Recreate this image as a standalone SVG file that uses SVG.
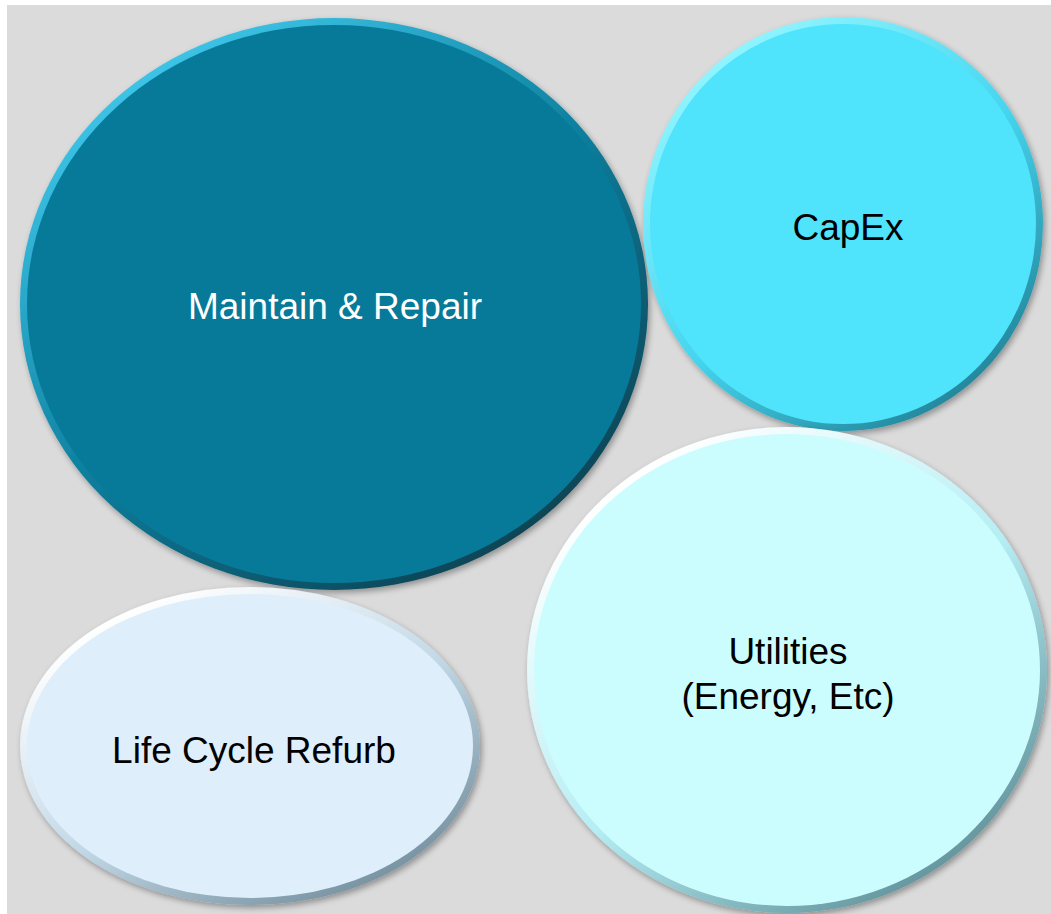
<svg xmlns="http://www.w3.org/2000/svg" width="1051" height="914" viewBox="0 0 1051 914">
<style>
.lbl{font-family:"Liberation Sans",Arial,sans-serif;font-size:37px;text-anchor:middle}
</style>
<defs>
<filter id="sh" x="-10%" y="-10%" width="120%" height="120%">
<feGaussianBlur in="SourceAlpha" stdDeviation="3"/>
<feOffset dx="2" dy="3" result="b"/>
<feComponentTransfer><feFuncA type="linear" slope="0.35"/></feComponentTransfer>
<feMerge><feMergeNode/><feMergeNode in="SourceGraphic"/></feMerge>
</filter>
<linearGradient id="rimM" x1="0.2" y1="0.1" x2="0.85" y2="0.95">
<stop offset="0" stop-color="#3cc3e6"/><stop offset="0.5" stop-color="#0a7a98"/><stop offset="1" stop-color="#0b3d4c"/>
</linearGradient>
<linearGradient id="rimC" x1="0.2" y1="0.1" x2="0.85" y2="0.95">
<stop offset="0" stop-color="#8ff4ff"/><stop offset="0.5" stop-color="#45d5ee"/><stop offset="1" stop-color="#1f7d92"/>
</linearGradient>
<linearGradient id="rimU" x1="0.2" y1="0.1" x2="0.85" y2="0.95">
<stop offset="0" stop-color="#ffffff"/><stop offset="0.5" stop-color="#b5eef4"/><stop offset="1" stop-color="#5b8a93"/>
</linearGradient>
<linearGradient id="rimL" x1="0.2" y1="0.1" x2="0.85" y2="0.95">
<stop offset="0" stop-color="#ffffff"/><stop offset="0.5" stop-color="#c2d8e6"/><stop offset="1" stop-color="#6f8a99"/>
</linearGradient>
</defs>
<rect x="0" y="0" width="1051" height="914" fill="#ffffff"/>
<rect x="7" y="5" width="1044" height="909" fill="#dcdbdb"/>
<g id="node-maintain">
<ellipse cx="334" cy="304" rx="314" ry="286" fill="url(#rimM)" filter="url(#sh)"/>
<ellipse cx="334" cy="304" rx="307" ry="279" fill="#087a99"/>
<text class="lbl" x="335" y="319" fill="#ffffff">Maintain &amp; Repair</text>
</g>
<g id="node-capex">
<ellipse cx="843" cy="224" rx="200" ry="207" fill="url(#rimC)" filter="url(#sh)"/>
<ellipse cx="843" cy="224" rx="193" ry="200" fill="#4fe3fc"/>
<text class="lbl" x="848" y="240" fill="#000000">CapEx</text>
</g>
<g id="node-utilities">
<ellipse cx="787" cy="670" rx="260" ry="243" fill="url(#rimU)" filter="url(#sh)"/>
<ellipse cx="787" cy="670" rx="253" ry="236" fill="#ccfdfe"/>
<text class="lbl" x="788" y="664" fill="#000000">Utilities</text>
<text class="lbl" x="788" y="709" fill="#000000">(Energy, Etc)</text>
</g>
<g id="node-lifecycle">
<ellipse cx="250" cy="746" rx="230" ry="159" fill="url(#rimL)" filter="url(#sh)"/>
<ellipse cx="250" cy="746" rx="223" ry="152" fill="#deeefb"/>
<text class="lbl" x="254" y="763" fill="#000000">Life Cycle Refurb</text>
</g>
<g id="connectors"/>
</svg>
